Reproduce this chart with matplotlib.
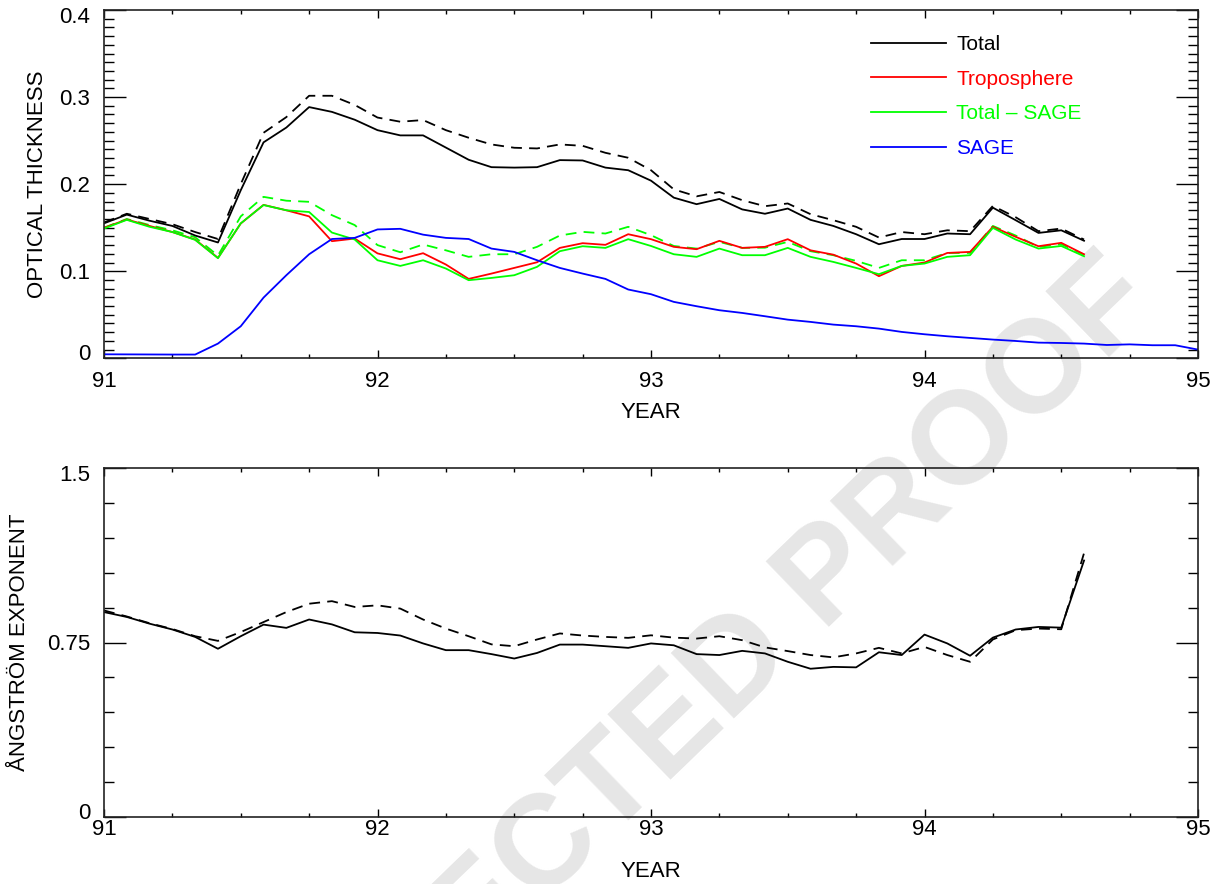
import matplotlib
matplotlib.use('Agg')
import matplotlib.pyplot as plt
import matplotlib.transforms as mtransforms
import numpy as np
from matplotlib.ticker import MultipleLocator

plt.rcParams['font.family'] = ['Liberation Sans', 'DejaVu Sans']

# ---------------- data ----------------
months = np.arange(49)
years = 91 + months / 12.0

total = [0.155, 0.165, 0.158, 0.152, 0.141, 0.133, 0.193, 0.248, 0.265, 0.2885,
         0.283, 0.274, 0.262, 0.256, 0.256, 0.242, 0.228, 0.2195, 0.219, 0.2195,
         0.2276, 0.2272, 0.219, 0.216, 0.204, 0.1845, 0.177, 0.183, 0.171, 0.166,
         0.172, 0.159, 0.152, 0.1425, 0.131, 0.137, 0.137, 0.1433, 0.1425, 0.173,
         0.1586, 0.144, 0.147, 0.135]
total_dash = [0.156, 0.166, 0.160, 0.154, 0.145, 0.137, 0.200, 0.259, 0.277, 0.3015,
              0.3015, 0.291, 0.2765, 0.2717, 0.2736, 0.262, 0.2533, 0.2456, 0.2418, 0.241,
              0.2456, 0.244, 0.236, 0.2303, 0.216, 0.194, 0.186, 0.191, 0.1816, 0.1747,
              0.1778, 0.1655, 0.1586, 0.151, 0.1387, 0.145, 0.1425, 0.147, 0.146, 0.175,
              0.162, 0.146, 0.149, 0.1364]
troposphere = [0.1498, 0.1594, 0.152, 0.145, 0.1364, 0.1153, 0.1548, 0.1762, 0.170, 0.163,
               0.1345, 0.1375, 0.1205, 0.1138, 0.1207, 0.1077, 0.0912, 0.0973, 0.1038, 0.1103,
               0.1268, 0.1322, 0.1303, 0.1425, 0.1368, 0.128, 0.1253, 0.1349, 0.1268, 0.128,
               0.1368, 0.124, 0.119, 0.1088, 0.0943, 0.1061, 0.110, 0.121, 0.1222, 0.151,
               0.1395, 0.1287, 0.1326, 0.1195]
total_minus_sage = [0.149, 0.159, 0.151, 0.145, 0.136, 0.115, 0.155, 0.176, 0.170, 0.168,
                    0.1444, 0.1364, 0.1126, 0.1061, 0.1126, 0.1031, 0.0897, 0.0923, 0.0954, 0.105,
                    0.123, 0.1287, 0.1268, 0.1368, 0.129, 0.1195, 0.1165, 0.126, 0.1184, 0.1184,
                    0.1268, 0.1165, 0.1107, 0.1038, 0.0966, 0.1061, 0.1088, 0.1165, 0.1184, 0.1498,
                    0.1364, 0.126, 0.129, 0.1172]
total_minus_sage_dash = [0.150, 0.160, 0.153, 0.147, 0.139, 0.118, 0.163, 0.1854, 0.181, 0.1797,
                         0.1644, 0.153, 0.130, 0.1218, 0.1307, 0.124, 0.1165, 0.1195, 0.1195, 0.128,
                         0.141, 0.1452, 0.1433, 0.151, 0.1414, 0.129, 0.126, 0.1337, 0.1268, 0.127,
                         0.1337, 0.123, 0.1184, 0.1119, 0.1038, 0.1126, 0.1126, 0.121, 0.121, 0.152,
                         0.141, 0.128, 0.131, 0.119]
sage = [0.0046, 0.0045, 0.0044, 0.0043, 0.0043, 0.0169, 0.0368, 0.0697, 0.0954, 0.1195,
        0.137, 0.1383, 0.148, 0.1487, 0.142, 0.1383, 0.137, 0.126, 0.1222, 0.1126,
        0.1038, 0.0973, 0.0912, 0.079, 0.0736, 0.0648, 0.0598, 0.0552, 0.0521, 0.0483,
        0.0444, 0.0418, 0.0387, 0.0368, 0.0341, 0.0303, 0.0276, 0.0253, 0.0234, 0.0215,
        0.0199, 0.018, 0.0176, 0.0169, 0.0153, 0.016, 0.015, 0.015, 0.010]

angstrom = [0.881, 0.860, 0.831, 0.806, 0.774, 0.723, 0.777, 0.827, 0.813, 0.849,
            0.828, 0.794, 0.791, 0.780, 0.746, 0.717, 0.717, 0.700, 0.681, 0.705,
            0.741, 0.741, 0.734, 0.727, 0.746, 0.738, 0.700, 0.696, 0.714, 0.703,
            0.667, 0.637, 0.645, 0.643, 0.708, 0.696, 0.784, 0.746, 0.693, 0.771,
            0.806, 0.817, 0.814, 1.103]
angstrom_dash = [0.888, 0.862, 0.833, 0.808, 0.777, 0.757, 0.795, 0.838, 0.881, 0.917,
                 0.928, 0.903, 0.910, 0.896, 0.849, 0.810, 0.777, 0.742, 0.734, 0.763,
                 0.789, 0.780, 0.774, 0.770, 0.781, 0.771, 0.767, 0.777, 0.760, 0.729,
                 0.713, 0.696, 0.686, 0.703, 0.727, 0.703, 0.731, 0.696, 0.667, 0.763,
                 0.803, 0.81, 0.807, 1.135]

legend_labels = ['Total', 'Troposphere', 'Total \u2013 SAGE', 'SAGE']
year_ticks = [91, 92, 93, 94, 95]
od_ticks = [0, 0.1, 0.2, 0.3, 0.4]
od_ticklabels = ['0', '0.1', '0.2', '0.3', '0.4']
ang_ticks = [0, 0.75, 1.5]
ang_ticklabels = ['0', '0.75', '1.5']

# ---------------- figure ----------------
W, H = 1223, 884
fig = plt.figure(figsize=(W / 100, H / 100), dpi=100)

fig.text(586 / W, 1 - 814 / H, 'UNCORRECTED PROOF', rotation=44, ha='center', va='center',
         fontsize=95, fontweight='bold', color='#e6e6e6', zorder=-5)

ax1 = fig.add_axes([104 / W, 1 - 358.3 / H, 1094 / W, 348.3 / H])
ax2 = fig.add_axes([104 / W, 1 - 816.7 / H, 1094 / W, 348.4 / H])

FS = 16
LFS = 15
lw = 1.3
dash = (0, (6, 4))
n = len(total)
x = years[:n]

ax1.plot(x, total_dash, color='black', lw=lw, ls=dash)
ax1.plot(x, total_minus_sage_dash, color='#00ff00', lw=lw, ls=dash)
ax1.plot(x, total, color='black', lw=lw, label=legend_labels[0])
ax1.plot(x, troposphere, color='#ff0000', lw=lw, label=legend_labels[1])
ax1.plot(x, total_minus_sage, color='#00ff00', lw=lw, label=legend_labels[2])
ax1.plot(years, sage, color='#0000ff', lw=lw, label=legend_labels[3])

ax2.plot(x, angstrom, color='black', lw=lw)
ax2.plot(x, angstrom_dash, color='black', lw=lw, ls=dash)

ax1.set_xlim(91, 95)
ax1.set_ylim(0, 0.4)
ax2.set_xlim(91, 95)
ax2.set_ylim(0, 1.5)

ax1.set_yticks(od_ticks)
ax1.set_yticklabels(od_ticklabels)
ax1.yaxis.set_minor_locator(MultipleLocator(0.01))
ax2.set_yticks(ang_ticks)
ax2.set_yticklabels(ang_ticklabels)
ax2.yaxis.set_minor_locator(MultipleLocator(0.15))

for ax, xpad in ((ax1, 9), (ax2, 1.5)):
    ax.set_facecolor('none')
    ax.set_xticks(year_ticks)
    ax.set_xticklabels([str(v) for v in year_ticks])
    ax.xaxis.set_minor_locator(MultipleLocator(0.25))
    ax.tick_params(which='both', direction='in', top=True, right=True,
                   labelsize=FS, color='black', width=1.0)
    ax.tick_params(axis='y', which='major', length=16, pad=10)
    ax.tick_params(axis='y', which='minor', length=7.5)
    ax.tick_params(axis='x', which='major', length=6, pad=xpad)
    ax.tick_params(axis='x', which='minor', length=3)
    for s in ax.spines.values():
        s.set_linewidth(1.2)
        s.set_color('#222222')
    ax.set_xlabel('YEAR', fontsize=FS)
    ax.xaxis.set_label_coords(0.5, -44 / 348.3)
    # end labels of the y axis are nudged inward, as in the original
    ylabels = ax.get_yticklabels()
    ylabels[0].set_transform(ylabels[0].get_transform() +
                             mtransforms.ScaledTranslation(0, 6 / 100, fig.dpi_scale_trans))
    ylabels[-1].set_transform(ylabels[-1].get_transform() +
                              mtransforms.ScaledTranslation(0, -5 / 100, fig.dpi_scale_trans))

ax1.set_ylabel('OPTICAL THICKNESS', fontsize=FS)
ax1.yaxis.set_label_coords(-(104 - 48) / 1094, 0.5)
ax2.set_ylabel('\u00c5NGSTR\u00d6M EXPONENT', fontsize=FS)
ax2.yaxis.set_label_coords(-(104 - 30) / 1094, 0.5)

leg = ax1.legend(loc='upper left', bbox_to_anchor=((871 - 104) / 1094, (358.3 - 35) / 348.3),
                 frameon=False, fontsize=LFS, handlelength=3.6, handletextpad=0.5,
                 labelspacing=0.75, borderpad=0, borderaxespad=0, labelcolor='linecolor')

fig.savefig('out.png', dpi=100)
